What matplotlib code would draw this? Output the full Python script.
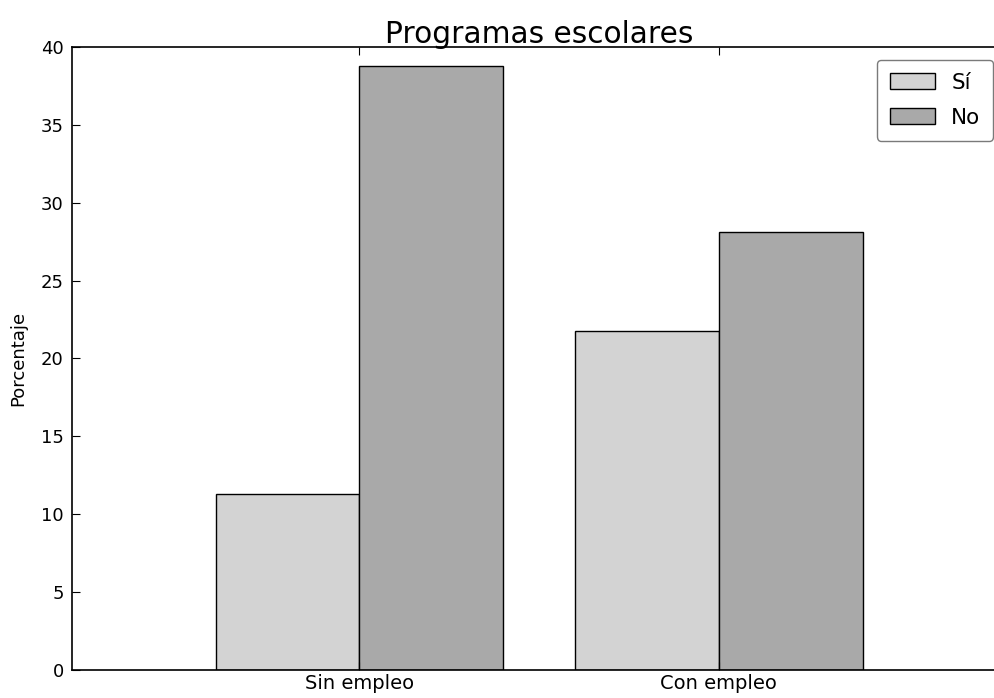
import matplotlib
matplotlib.use('Agg')
import matplotlib.pyplot as plt
import numpy as np

categorias = ['Sin empleo', 'Con empleo']
si = [11.3, 21.75]
no = [38.8, 28.1]
series = ['Sí', 'No']

fig = plt.figure(figsize=(9.94, 6.98), dpi=100)
ax = fig.add_axes([0.0724, 0.0401, 0.94, 0.8926])

ind = np.arange(len(categorias))
width = 0.4
ax.bar(ind - width, si, width, align='edge', color='lightgray',
       edgecolor='black', linewidth=1, label=series[0])
ax.bar(ind, no, width, align='edge', color='darkgray',
       edgecolor='black', linewidth=1, label=series[1])

ax.set_xlim(-0.8, 1.8)
ax.set_ylim(0, 40)
ax.set_xticks(ind)
ax.set_xticklabels(categorias, fontsize=14)
ax.set_yticks(np.arange(0, 41, 5))
ax.tick_params(axis='y', labelsize=13)
ax.tick_params(direction='in', top=True, right=True, length=6, pad=6)
ax.tick_params(axis='x', pad=3)
for s in ax.spines.values():
    s.set_linewidth(1.2)

ax.set_ylabel('Porcentaje', fontsize=13)
ax.yaxis.set_label_coords(-0.048, 0.5)
ax.set_title('Programas escolares', fontsize=21.3, pad=3)

leg = ax.legend(loc='upper right', fontsize=15.5, fancybox=True,
                handlelength=2.1, handleheight=0.75, borderpad=0.6,
                labelspacing=0.7, handletextpad=0.75, borderaxespad=0.6)
leg.get_frame().set_edgecolor('0.35')
leg.get_frame().set_linewidth(1)

fig.savefig('out.png', dpi=100)
